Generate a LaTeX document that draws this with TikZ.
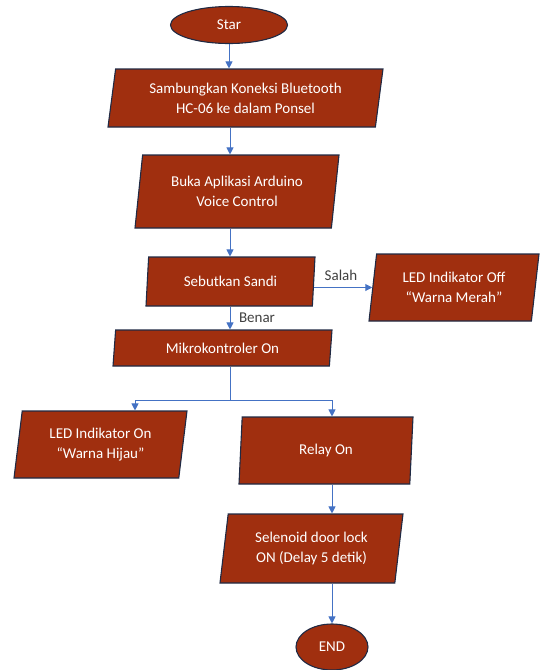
\documentclass[tikz,border=0pt]{standalone}
\usepackage{fontspec}
\setmainfont{Carlito}
\usetikzlibrary{shapes.geometric,arrows.meta,positioning}
\definecolor{boxred}{RGB}{160,47,15}
\definecolor{boxline}{RGB}{32,42,68}
\definecolor{flowblue}{RGB}{68,114,196}
\definecolor{labelgray}{RGB}{64,64,64}
\newcommand{\boxfont}{\fontsize{15}{20}\selectfont}

\begin{document}
\begin{tikzpicture}[x=1pt,y=-1pt,
  terminal/.style={ellipse, draw=boxline, fill=boxred, line width=1.1pt,
                   text=white, inner sep=0pt, font=\boxfont},
  iobox/.style={trapezium, trapezium left angle=76, trapezium right angle=104,
                trapezium stretches body=true, draw=boxline, fill=boxred,
                line width=1.1pt, text=white, align=center, inner sep=0pt, font=\boxfont},
  arr/.style={flowblue, line width=1pt, -{Triangle[width=7pt,length=7pt]}},
  flow/.style={flowblue, line width=1pt},
  lbl/.style={text=labelgray, font=\boxfont},
]
\useasboundingbox (0,0) rectangle (539,670);

% main column
\node[terminal, minimum width=117pt, minimum height=37pt] (star) at (229,25) {Star};
\node[iobox, minimum width=275pt, minimum height=58pt] (sambung) at (245.5,98)
  {Sambungkan Koneksi Bluetooth\\HC-06 ke dalam Ponsel};
\node[iobox, minimum width=204pt, minimum height=73pt] (buka) at (237,191.5)
  {Buka Aplikasi Arduino\\Voice Control};
\node[iobox, minimum width=169pt, minimum height=49pt] (sandi) at (230.5,281.5) {Sebutkan Sandi};
\node[iobox, minimum width=170pt, minimum height=67pt] (ledoff) at (454,287.5)
  {LED Indikator Off\\“Warna Merah”};
\node[iobox, minimum width=219pt, minimum height=36pt] (mikro) at (222.5,348) {Mikrokontroler On};

%% branches
\node[iobox, minimum width=173pt, minimum height=67pt] (ledon) at (100.5,444.5)
  {LED Indikator On\\“Warna Hijau”};
\node[iobox, minimum width=174pt, minimum height=67pt] (relay) at (326,450.5) {Relay On};
\node[iobox, minimum width=183pt, minimum height=69pt] (selenoid) at (311.5,548.5)
  {Selenoid door lock\\ON (Delay 5 detik)};
\node[terminal, minimum width=72pt, minimum height=46pt] (theend) at (332,647) {END};

\node[lbl] (salah) at (341,275) {Salah};
\node[lbl] (benar) at (257,318) {Benar};

%% connectors
\coordinate (fork) at (230,400);
\coordinate (lcol) at (135,400);
\coordinate (rcol) at (332,400);
\draw[arr] (star.south) -- (star.south |- sambung.north);
\draw[arr] (fork |- sambung.south) -- (fork |- buka.north);
\draw[arr] (fork |- buka.south) -- (fork |- sandi.north);
\draw[arr] (fork |- sandi.south) -- (fork |- mikro.north);
\draw[arr] (sandi.east |- ledoff.west) -- (ledoff.west);
\draw[flow] (fork |- mikro.south) -- (fork);
\draw[arr] (fork) -| (lcol |- ledon.north);
\draw[arr] (fork) -| (rcol |- relay.north);
\draw[arr] (rcol |- relay.south) -- (rcol |- selenoid.north);
\draw[arr] (rcol |- selenoid.south) -- (theend.north);
\end{tikzpicture}
\end{document}
